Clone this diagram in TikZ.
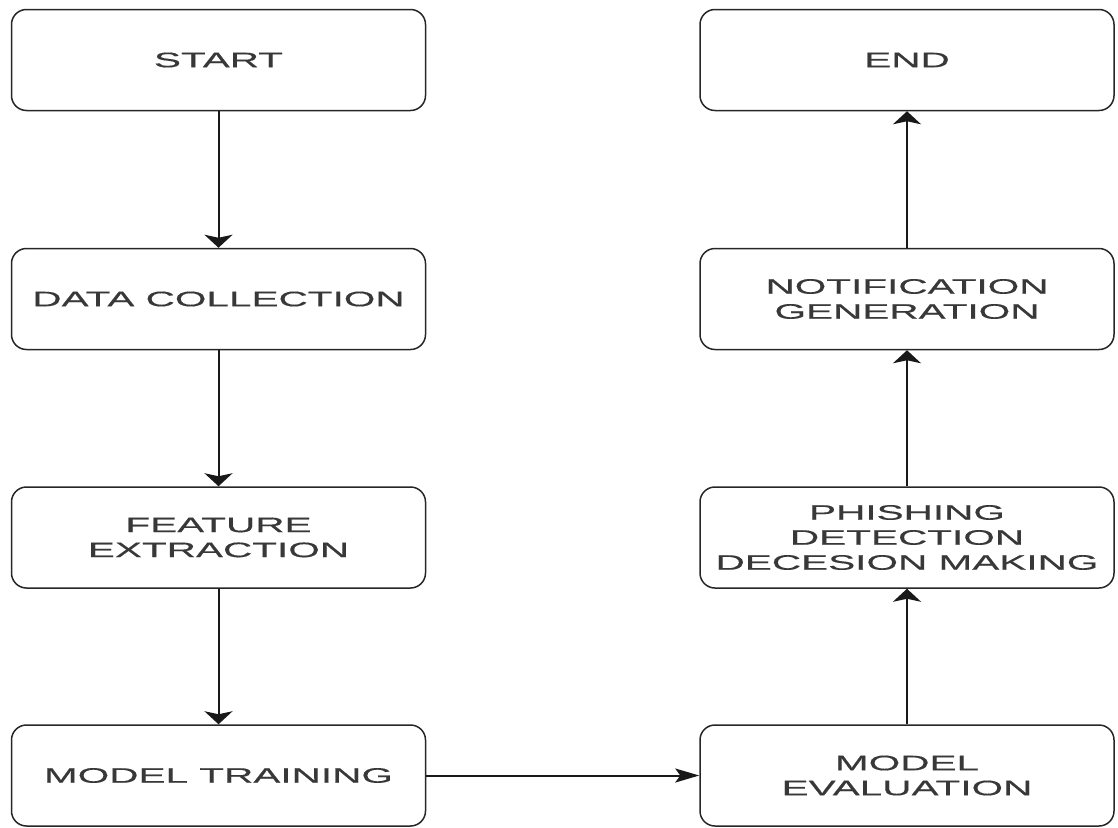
\documentclass[tikz,border=0pt]{standalone}
\usepackage{fontspec}
\setmainfont[FakeStretch=1.93,FakeBold=0.4]{Liberation Sans}
\usetikzlibrary{arrows.meta}
\begin{document}
\begin{tikzpicture}[x=1pt,y=-1pt,
  box/.style={draw=black!85, line width=1.5pt, rounded corners=15pt, minimum width=414pt, minimum height=101pt, inner sep=0pt, align=center, font=\fontsize{21}{25}\selectfont, text=black!78},
  varrow/.style={draw=black!90, line width=2pt, -{Stealth[length=13pt,width=28pt,inset=3pt]}},
  harrow/.style={draw=black!90, line width=2pt, -{Stealth[length=24pt,width=14pt,inset=5pt]}}]
\useasboundingbox (0,0) rectangle (1118,827);
\node[box] (start) at (218.5,60) {START};
\node[box] (data) at (218.5,299) {DATA COLLECTION};
\node[box] (feat) at (218.5,537.5) {FEATURE\\EXTRACTION};
\node[box] (train) at (218.5,775.5) {MODEL TRAINING};
\node[box] (eval) at (907,775.5) {MODEL\\EVALUATION};
\node[box] (detect) at (907,537.5) {PHISHING\\DETECTION\\DECESION MAKING};
\node[box] (notif) at (907,299) {NOTIFICATION\\GENERATION};
\node[box] (end) at (907,60) {END};
\draw[varrow] (start) -- (data);
\draw[varrow] (data) -- (feat);
\draw[varrow] (feat) -- (train);
\draw[harrow] (train) -- (eval);
\draw[varrow] (eval) -- (detect);
\draw[varrow] (detect) -- (notif);
\draw[varrow] (notif) -- (end);
\end{tikzpicture}
\end{document}
